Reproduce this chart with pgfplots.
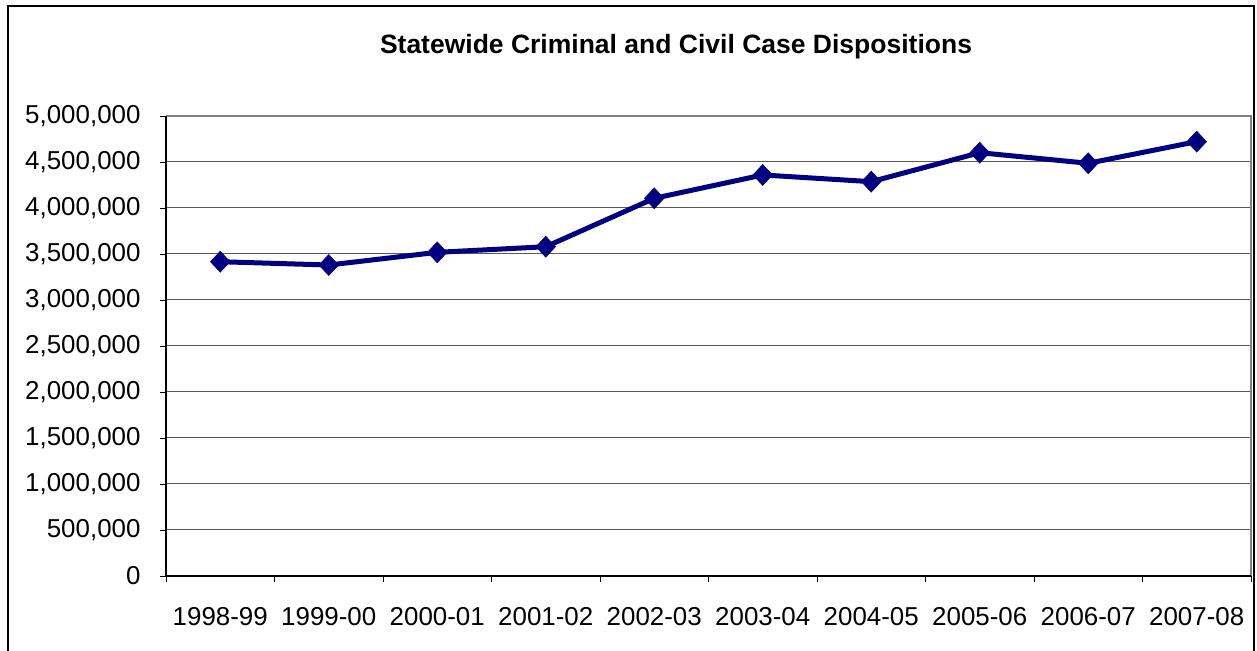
\documentclass[border=0pt]{standalone}
\usepackage{fontspec}
\setmainfont{Liberation Sans}
\usepackage{pgfplots}
\pgfplotsset{compat=1.18}
\definecolor{navyline}{RGB}{0,0,128}
\begin{document}
\begin{tikzpicture}[x=1bp,y=1bp]
\path[use as bounding box] (0,0) rectangle (1257,651);
\draw[line width=2bp] (8,-20) -- (8,645) -- (1254,645) -- (1254,-20);
\node[font=\bfseries\fontsize{26.6}{30}\selectfont] at (676,604) {Statewide Criminal and Civil Case Dispositions};
\begin{axis}[
  at={(166bp,75bp)}, anchor=south west,
  width=1085bp, height=460bp, scale only axis,
  xmin=-0.5, xmax=9.5, ymin=0, ymax=5000000,
  clip=false,
  axis line style={draw=none},
  xtick={0,...,9},
  xticklabels={1998-99,1999-00,2000-01,2001-02,2002-03,2003-04,2004-05,2005-06,2006-07,2007-08},
  minor xtick={-0.5,0.5,...,9.5},
  major x tick style={draw=none},
  minor x tick style={black, line width=0.8bp},
  minor tick length=6bp,
  ytick={0,500000,...,5000000},
  major y tick style={black, line width=0.8bp},
  major tick length=6bp,
  tick align=outside,
  tick pos=left,
  ymajorgrids,
  grid style={line width=1bp, color=black!65},
  scaled y ticks=false,
  /pgf/number format/.cd, fixed, 1000 sep={,}, assume math mode=true,
  /pgfplots/.cd,
  ticklabel style={font=\fontsize{26}{30}\selectfont},
  yticklabel style={xshift=-16bp},
  xticklabel style={yshift=-22bp},
]
\addplot[navyline, line width=5bp, mark=diamond*, mark size=10.5bp, mark options={solid, fill=navyline, line width=0.5bp, xscale=1.25}]
coordinates {
(0,3416000) (1,3380000) (2,3518000) (3,3579000) (4,4105000)
(5,4359000) (6,4286000) (7,4601000) (8,4486000) (9,4721000)
};
\draw[color=black!50, line width=2bp] (rel axis cs:0,1) -- (rel axis cs:1,1) -- (rel axis cs:1,0);
\draw[black, line width=1.6bp] (rel axis cs:0,1) -- (rel axis cs:0,0) -- (rel axis cs:1,0);
\end{axis}
\end{tikzpicture}
\end{document}
